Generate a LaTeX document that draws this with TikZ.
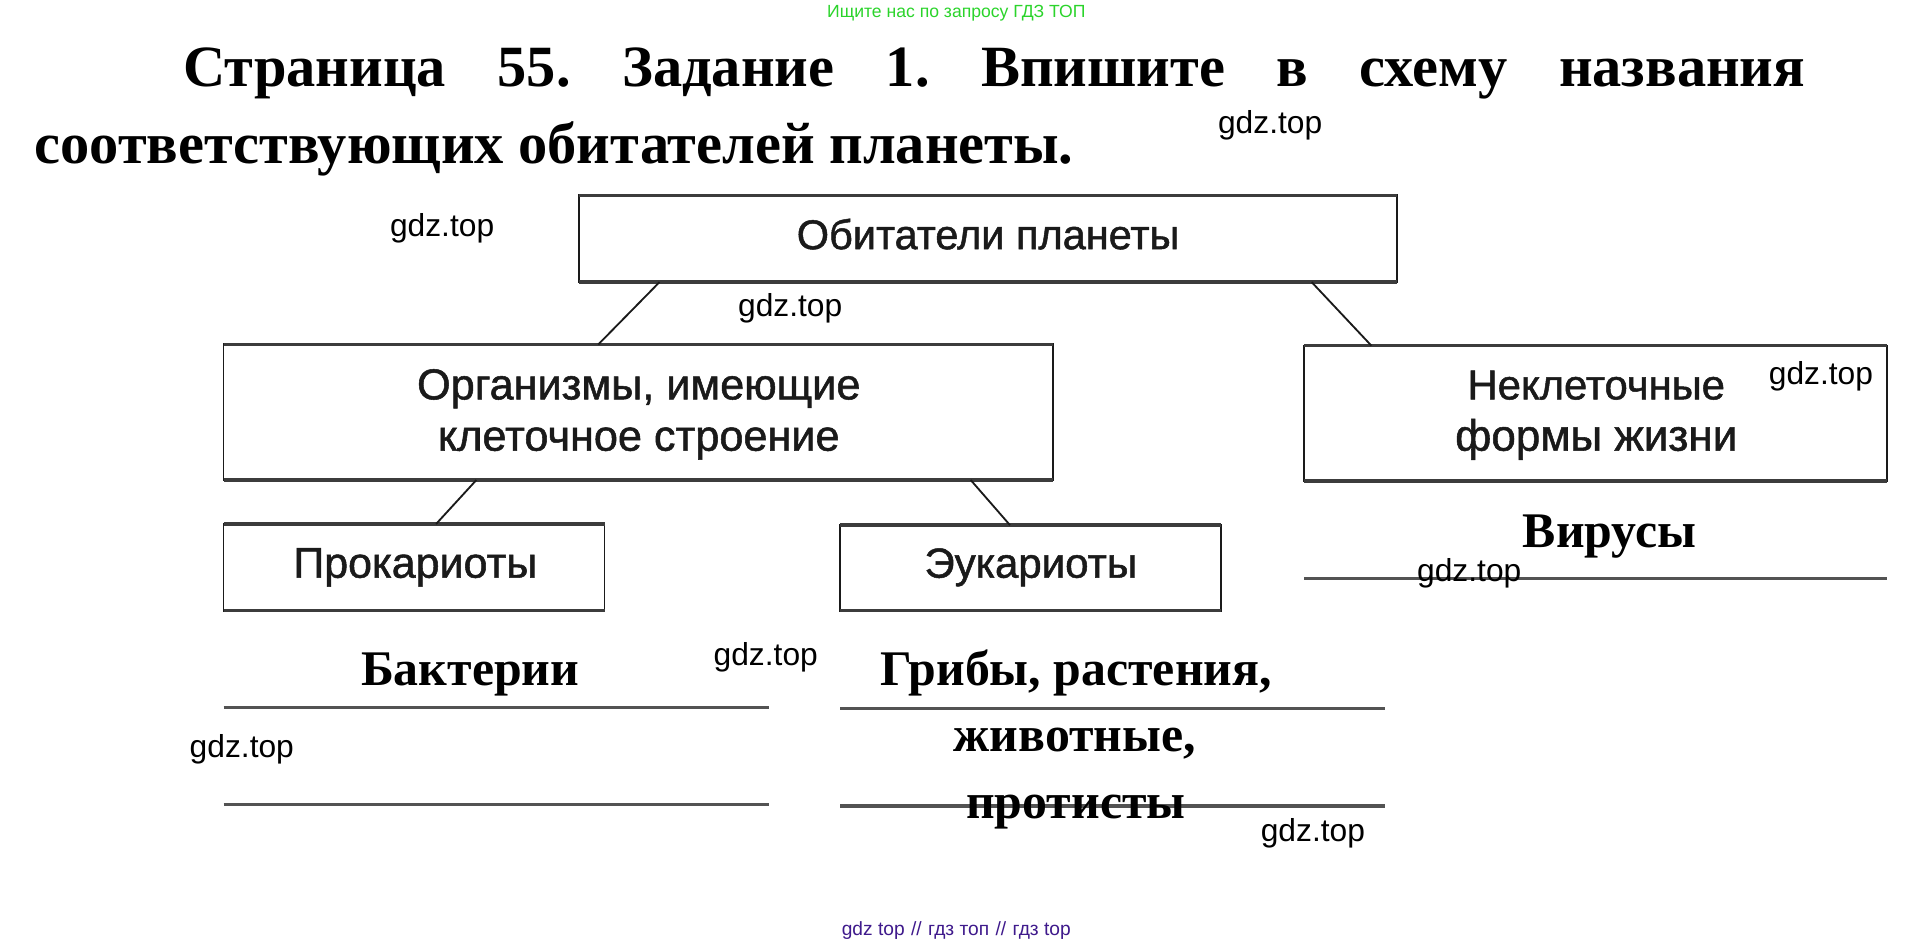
\documentclass[tikz,border=0pt]{standalone}
\usepackage{fontspec}
\setmainfont{Liberation Serif}
\setsansfont{Liberation Sans}
\newfontfamily\boxfont[FakeBold=1.2]{Liberation Sans}
\usetikzlibrary{calc}
\frenchspacing
\definecolor{boxink}{HTML}{1A1A1A}
\definecolor{hdrgreen}{HTML}{2BD42B}
\definecolor{ftrviolet}{HTML}{3F1A8C}
\tikzset{
  x=1pt,y=-1pt,
  boxn/.style={draw=boxink,line width=1.5pt},
  boxedge/.style={draw=boxink!85,line width=3pt},
  link/.style={draw=boxink,line width=1.5pt},
  rule/.style={draw=boxink!75,line width=2.6pt},
  boxtxt/.style={text=boxink,anchor=base,inner sep=0pt},
  answer/.style={font=\rmfamily\bfseries\fontsize{40.8}{40.8}\selectfont,anchor=base,inner sep=0pt},
  wm/.style={font=\sffamily\fontsize{26}{26}\selectfont,anchor=base,inner sep=0pt},
  titletxt/.style={font=\rmfamily\bfseries\fontsize{47.85}{47.85}\selectfont,anchor=base west,inner sep=0pt},
}
\newcommand{\bx}[5]{\path[boxn] (#2,#3) rectangle (#4,#5);
  \coordinate (#1nw) at (#2,#3); \coordinate (#1ne) at (#4,#3);
  \coordinate (#1sw) at (#2,#5); \coordinate (#1se) at (#4,#5);
  \path[boxedge] (#1nw) -- (#1ne) (#1sw) -- (#1se);}
\newcommand{\bs}[1]{\boxfont\fontsize{#1}{#1}\selectfont}
\begin{document}
\begin{tikzpicture}
\useasboundingbox (0,0) rectangle (1568,773);
\fill[white] (0,0) rectangle (1568,773);
% header and footer
\node[font=\sffamily\fontsize{14.4}{14.4}\selectfont,text=hdrgreen,anchor=base,inner sep=0pt] (hdr) at (783,14) {Ищите нас по запросу ГДЗ ТОП};
\node[font=\sffamily\fontsize{15.7}{15.7}\selectfont,text=ftrviolet,anchor=base,inner sep=0pt] (ftr) at (783,766) {gdz top\,\,//\,\,гдз топ\,\,//\,\,гдз top};
% title
\node[titletxt] (t1) at (150,71) {\makebox[1328pt][s]{Страница 55. Задание 1. Впишите в схему названия}};
\node[titletxt] (t2) at (28,134) {соответствующих обитателей планеты.};
% boxes
\bx{top}{474}{160}{1144}{231}
\bx{org}{183}{282}{862}{393}
\bx{non}{1068}{283}{1545}{394}
\bx{pro}{183}{429}{495}{500}
\bx{euk}{688}{430}{1000}{500}
% box texts
\node[boxtxt,font=\bs{34}] (ttop) at (809,204) {Обитатели планеты};
\node[boxtxt,font=\bs{35.4}] (torg1) at (523,327) {Организмы, имеющие};
\node[boxtxt,font=\bs{35.4}] (torg2) at (523,369) {клеточное строение};
\node[boxtxt,font=\bs{34.2}] (tnon1) at (1307,327) {Неклеточные};
\node[boxtxt,font=\bs{36}] (tnon2) at (1307,369) {формы жизни};
\node[boxtxt,font=\bs{35.2}] (tpro) at (340,473) {Прокариоты};
\node[boxtxt,font=\bs{34.4}] (teuk) at (844,473) {Эукариоты};
% connectors
\draw[link] ($(topsw)!.0985!(topse)$) -- ($(orgnw)!.452!(orgne)$);
\draw[link] ($(topsw)!.8955!(topse)$) -- ($(nonnw)!.115!(nonne)$);
\draw[link] ($(orgsw)!.305!(orgse)$) -- ($(pronw)!.558!(prone)$);
\draw[link] ($(orgsw)!.901!(orgse)$) -- ($(euknw)!.4455!(eukne)$);
% answer rules
\coordinate (r1a) at (1068,474); \coordinate (r1b) at (1545,474);
\coordinate (r2a) at (183,579); \coordinate (r2b) at (630,579);
\coordinate (r3a) at (688,580); \coordinate (r3b) at (1134,580);
\coordinate (r4a) at (183,659); \coordinate (r4b) at (630,659);
\coordinate (r5a) at (688,660); \coordinate (r5b) at (1134,660);
\draw[rule] (r1a) -- (r1b);
\draw[rule] (r2a) -- (r2b);
\draw[rule] (r3a) -- (r3b);
\draw[rule] (r4a) -- (r4b);
\draw[rule] (r5a) -- (r5b);
% answers
\node[answer] (a1) at (1318,448) {Вирусы};
\node[answer] (a2) at (385,561) {Бактерии};
\node[answer] (a3) at (881,561) {Грибы, растения,};
\node[answer] (a4) at (880,615) {животные,};
\node[answer] (a5) at (881,670) {протисты};
% watermarks
\node[wm] (w1) at (1040,109) {gdz.top};
\node[wm] (w2) at (362,194) {gdz.top};
\node[wm] (w3) at (647,259) {gdz.top};
\node[wm] (w4) at (1491,315) {gdz.top};
\node[wm] (w5) at (1203,476) {gdz.top};
\node[wm] (w6) at (627,545) {gdz.top};
\node[wm] (w7) at (198,620) {gdz.top};
\node[wm] (w8) at (1075,689) {gdz.top};
\end{tikzpicture}
\end{document}
